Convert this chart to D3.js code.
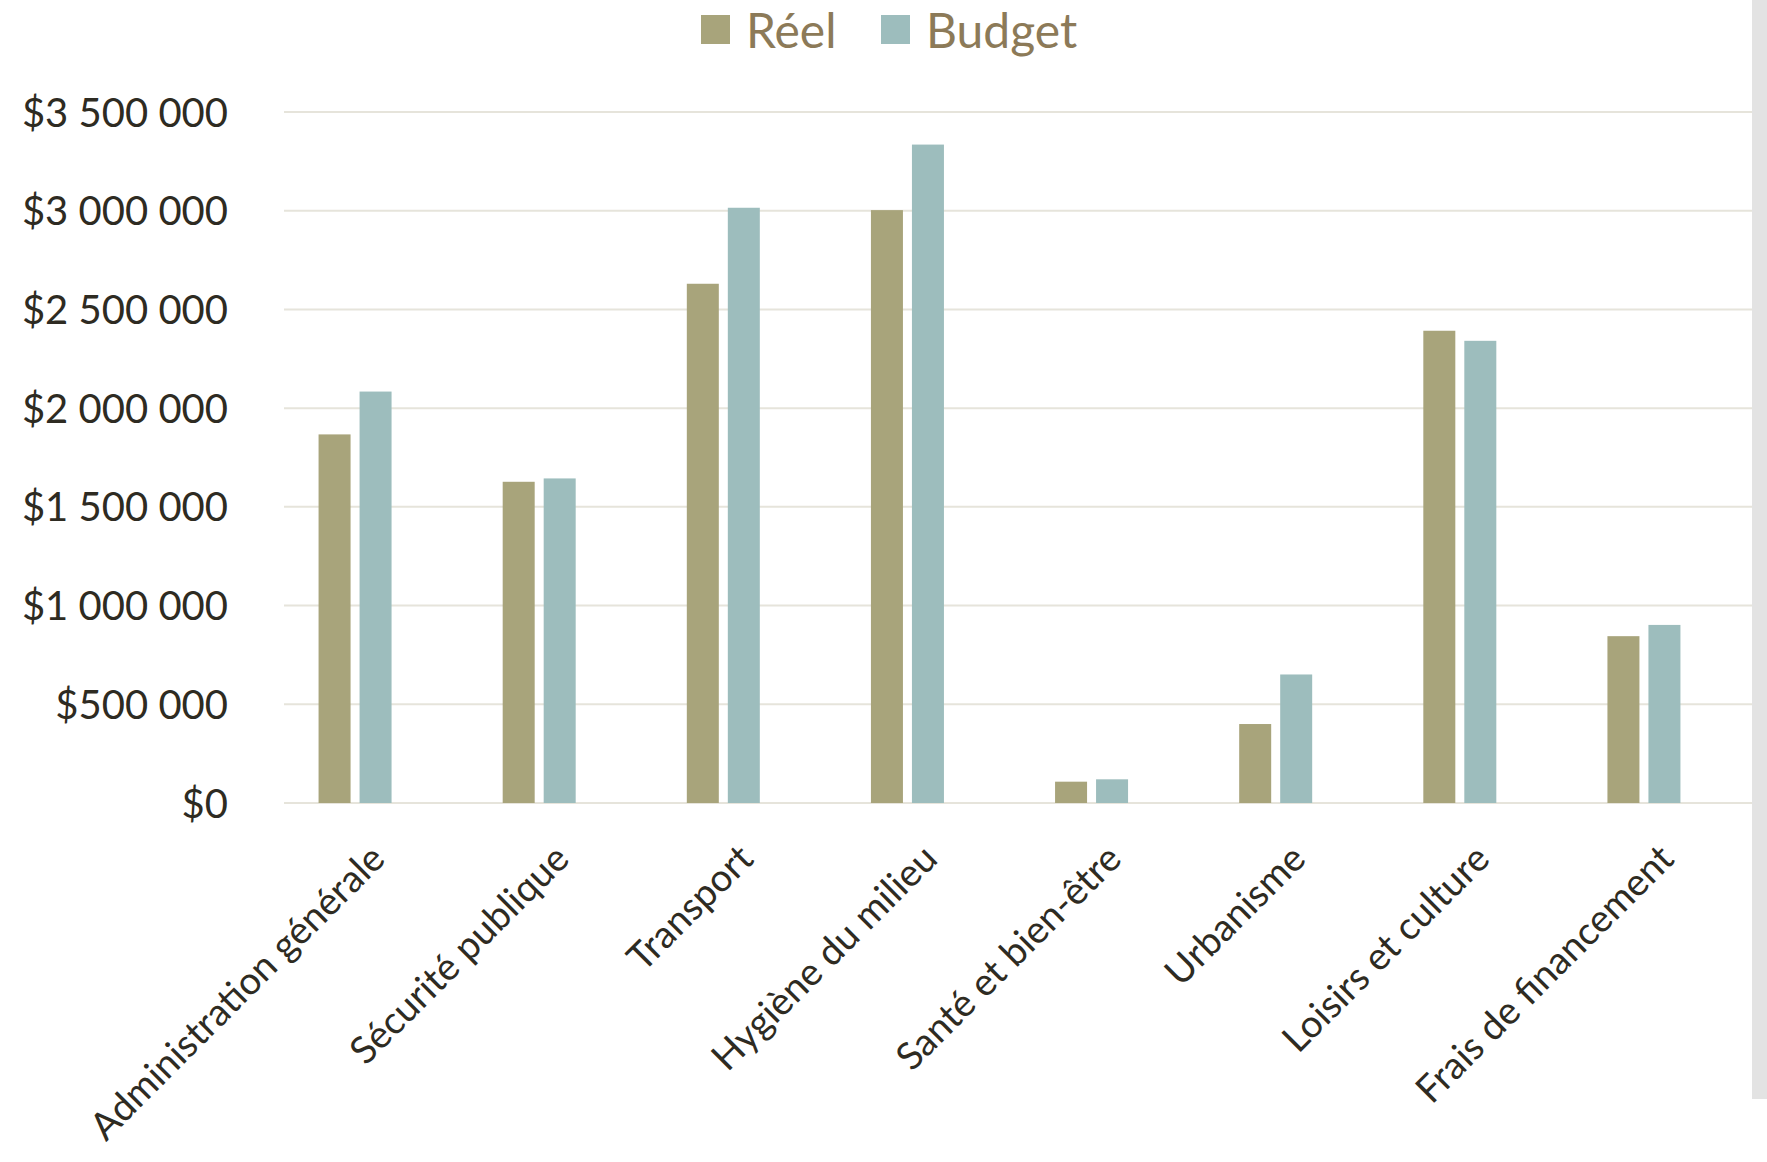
<!DOCTYPE html>
<html>
<head>
<meta charset="utf-8">
<script src="https://cdn.jsdelivr.net/npm/d3@7"></script>
<style>
  body { margin: 0; background: #fff; }
  #canvas text { font-family: Lato, "Open Sans", sans-serif; }
</style>
</head>
<body>
<div id="canvas"></div>
<script>
const categories = ["Administration générale", "Sécurité publique", "Transport", "Hygiène du milieu",
  "Santé et bien-être", "Urbanisme", "Loisirs et culture", "Frais de financement"];
const series = ["Réel", "Budget"];
const reel   = [1867000, 1627000, 2630000, 3003000, 108000, 400000, 2392000, 845000];
const budget = [2084000, 1644000, 3015000, 3335000, 120000, 651000, 2341000, 902000];
const yTicks = [0, 500000, 1000000, 1500000, 2000000, 2500000, 3000000, 3500000];
const colors = ["#a8a47b", "#9dbdbd"];

const width = 1767, height = 1162;
const svg = d3.select("#canvas").append("svg")
  .attr("width", width).attr("height", height);

const locale = d3.formatLocale({ decimal: ",", thousands: " ", grouping: [3], currency: ["$", ""] });
const fmt = locale.format("$,.0f");

const y = d3.scaleLinear().domain([0, 3500000]).range([803, 112]);
const x = d3.scaleBand().domain(categories).range([263, 1736]);
const xs = d3.scaleBand().domain(series).range([-36.5, 36.5]).paddingInner(0.2195);

// grid
const grid = svg.append("g");
grid.selectAll("line").data(yTicks).enter().append("line")
  .attr("x1", 284).attr("x2", 1752)
  .attr("y1", d => y(d)).attr("y2", d => y(d))
  .attr("stroke", "#e6e4db").attr("stroke-width", 2);

// y axis labels
const yAxis = svg.append("g").attr("transform", "translate(240,0)")
  .call(d3.axisLeft(y).tickValues(yTicks).tickFormat(fmt).tickSize(0).tickPadding(12));
yAxis.select(".domain").remove();
yAxis.selectAll("text").attr("font-size", 40).attr("fill", "#2e2b22").attr("dy", "0.35em");

// bars
const data = categories.map((c, i) => ({ cat: c, vals: [reel[i], budget[i]] }));
const groups = svg.append("g").selectAll("g").data(data).enter().append("g")
  .attr("transform", d => `translate(${x(d.cat) + x.bandwidth() / 2},0)`);
groups.selectAll("rect").data(d => d.vals.map((v, j) => ({ s: series[j], v: v, j: j })))
  .enter().append("rect")
  .attr("x", d => xs(d.s))
  .attr("width", xs.bandwidth())
  .attr("y", d => y(d.v))
  .attr("height", d => y(0) - y(d.v))
  .attr("fill", d => colors[d.j]);

// x labels
const xAxis = svg.append("g").attr("transform", "translate(0,803)")
  .call(d3.axisBottom(x).tickSize(0).tickPadding(0));
xAxis.select(".domain").remove();
xAxis.selectAll("text")
  .attr("font-size", 38).attr("fill", "#2e2b22")
  .attr("text-anchor", "end")
  .attr("dy", 0)
  .attr("transform", "translate(32,58) rotate(-45)");

// legend
const legend = svg.append("g");
const legX = [701, 881];
series.forEach((s, i) => {
  legend.append("rect").attr("x", legX[i]).attr("y", 15).attr("width", 29).attr("height", 29)
    .attr("fill", colors[i]);
  legend.append("text").attr("x", legX[i] + 45).attr("y", 48)
    .attr("font-size", 48).attr("fill", "#8c7a58").text(s);
});

// right-side bar
svg.append("rect").attr("x", 1752).attr("y", 0).attr("width", 15).attr("height", 1099)
  .attr("fill", "#e3e3e3");
</script>
</body>
</html>
